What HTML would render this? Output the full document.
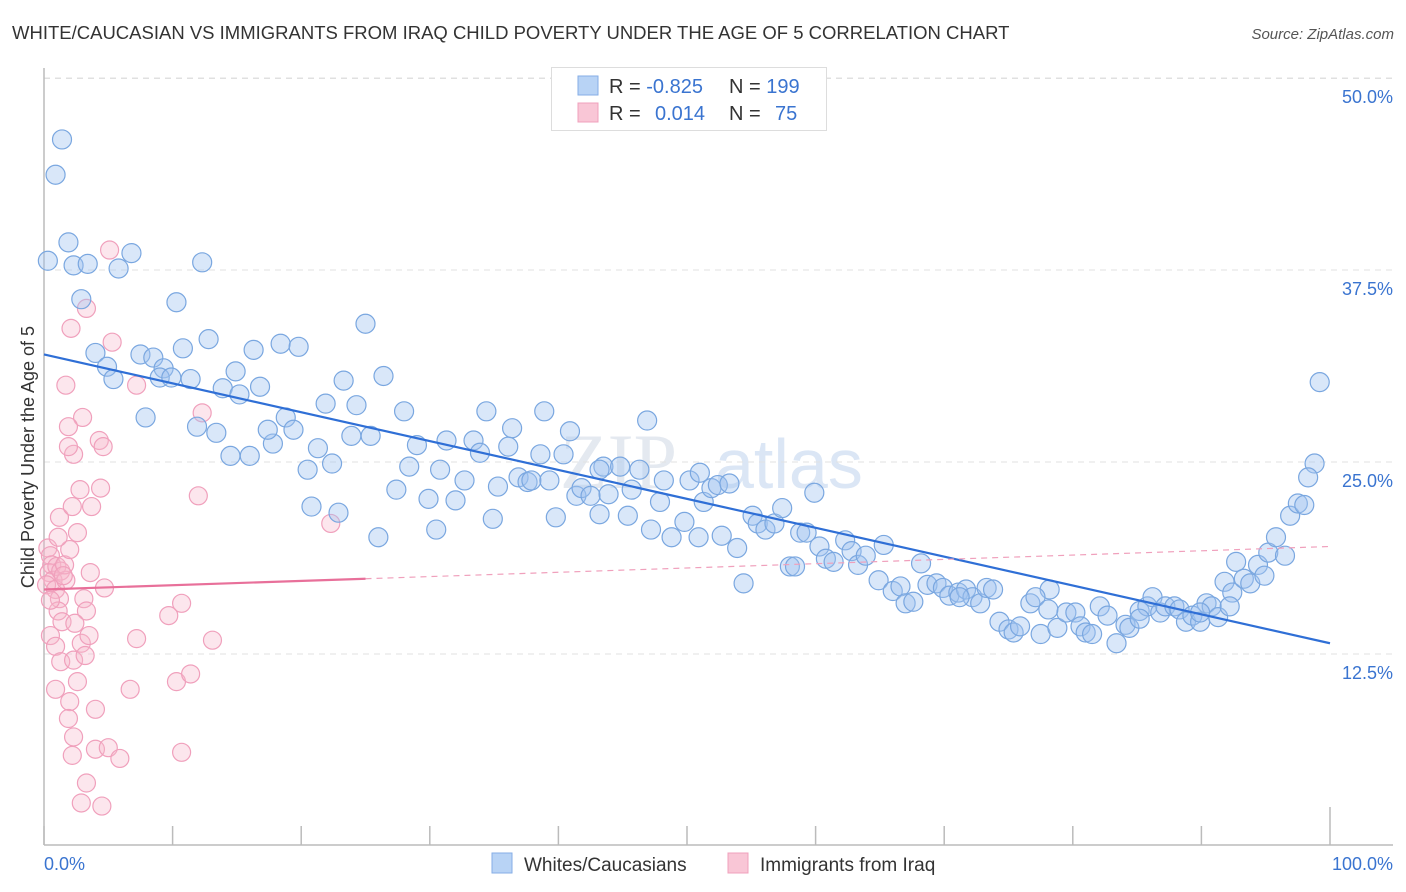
<!DOCTYPE html>
<html><head><meta charset="utf-8"><style>
body{margin:0;background:#fff;font-family:"Liberation Sans",sans-serif;}
svg{display:block}
</style></head><body>
<svg id="chart" width="1406" height="892">
<text x="12" y="39" font-size="18.5" fill="#333">WHITE/CAUCASIAN VS IMMIGRANTS FROM IRAQ CHILD POVERTY UNDER THE AGE OF 5 CORRELATION CHART</text>
<text x="1394" y="39" font-size="15" fill="#555" font-style="italic" text-anchor="end">Source: ZipAtlas.com</text>
<text x="0" y="0" transform="translate(34,457) rotate(-90)" font-size="18" fill="#333" text-anchor="middle">Child Poverty Under the Age of 5</text>
<text x="560" y="488" font-size="78" fill="#e4e9f0" font-family="Liberation Serif,serif">ZIP</text>
<text x="715" y="488" font-size="70" fill="#dbe6f5">atlas</text>
<g id="grid"></g><g id="pink"></g><g id="blue"></g><g id="lines"></g>
<g>
<rect x="551.5" y="67.5" width="275" height="63" fill="#fff" stroke="#ddd"/>
<rect x="578" y="76" width="20" height="19" fill="#b8d3f5" stroke="#86aee6"/>
<rect x="578" y="103" width="20" height="19" fill="#f9c6d6" stroke="#f0a0bc"/>
<text x="609" y="93" font-size="20" fill="#333">R = <tspan fill="#3a74d0">-0.825</tspan><tspan x="729">N = </tspan><tspan fill="#3a74d0">199</tspan></text>
<text x="609" y="120" font-size="20" fill="#333">R = <tspan x="655" fill="#3a74d0">0.014</tspan><tspan x="729">N = </tspan><tspan x="775" fill="#3a74d0">75</tspan></text>
</g>
<g>
<rect x="492" y="853" width="20" height="20" fill="#b8d3f5" stroke="#86aee6"/>
<text x="524" y="871" font-size="19" fill="#333">Whites/Caucasians</text>
<rect x="728" y="853" width="20" height="20" fill="#f9c6d6" stroke="#f0a0bc"/>
<text x="760" y="871" font-size="19" fill="#333">Immigrants from Iraq</text>
</g>
</svg>
<script>
const blueX=[1.4,0.9,1.9,0.3,2.3,3.4,5.8,6.8,12.3,2.9,10.3,25.0,4.0,7.5,8.5,10.8,12.8,16.3,18.4,19.8,4.9,5.4,9.3,9.0,9.9,11.4,14.9,16.8,13.9,15.2,23.3,26.4,7.9,11.9,13.4,14.5,16.0,17.8,17.4,18.8,19.4,21.9,24.3,28.0,21.3,22.4,20.5,20.8,22.9,23.9,25.4,26.0,27.4,28.4,29.0,29.9,30.5,30.8,31.3,32.0,32.7,33.4,34.4,33.9,34.9,35.3,36.1,36.4,36.9,37.6,37.9,38.6,38.9,39.3,39.8,40.4,40.9,41.4,41.8,42.5,43.2,43.5,43.9,44.8,45.4,45.7,46.9,46.3,47.2,47.9,48.2,48.8,49.8,50.2,50.9,51.3,51.9,52.4,52.7,53.3,53.9,54.4,55.1,55.5,56.1,56.8,57.4,58.0,58.4,58.8,59.3,59.9,60.3,60.8,61.4,62.3,62.8,63.3,63.9,64.9,65.3,66.0,66.6,67.0,67.6,68.2,68.7,69.4,69.9,70.4,71.1,71.7,72.2,72.8,73.3,73.8,74.3,75.0,75.4,75.9,76.7,77.5,78.2,78.8,79.5,80.2,80.6,81.0,81.5,82.1,82.7,83.4,84.1,84.4,85.2,85.8,86.2,86.8,87.2,87.9,88.3,88.8,89.3,89.9,90.4,90.8,91.3,91.8,92.4,92.7,93.3,93.8,94.4,94.9,95.2,95.8,96.5,96.9,97.5,98.0,98.8,98.3,99.2,92.2,77.1,85.2,89.9,71.2,78.1,43.2,51.0];
const blueY=[46.0,43.7,39.3,38.1,37.8,37.9,37.6,38.6,38.0,35.6,35.4,34.0,32.1,32.0,31.8,32.4,33.0,32.3,32.7,32.5,31.2,30.4,31.1,30.5,30.5,30.4,30.9,29.9,29.8,29.4,30.3,30.6,27.9,27.3,26.9,25.4,25.4,26.2,27.1,27.9,27.1,28.8,28.7,28.3,25.9,24.9,24.5,22.1,21.7,26.7,26.7,20.1,23.2,24.7,26.1,22.6,20.6,24.5,26.4,22.5,23.8,26.4,28.3,25.6,21.3,23.4,26.0,27.2,24.0,23.7,23.8,25.5,28.3,23.8,21.4,25.5,27.0,22.8,23.3,22.8,21.6,24.7,22.9,24.7,21.5,23.2,27.7,24.5,20.6,22.4,23.8,20.1,21.1,23.8,20.1,22.4,23.3,23.5,20.2,23.6,19.4,17.1,21.5,21.0,20.6,21.0,22.0,18.2,18.2,20.4,20.4,23.0,19.5,18.7,18.5,19.9,19.2,18.3,18.9,17.3,19.6,16.6,16.9,15.8,15.9,18.4,17.0,17.1,16.8,16.3,16.5,16.7,16.2,15.8,16.8,16.7,14.6,14.1,13.9,14.3,15.8,13.8,16.7,14.2,15.2,15.2,14.3,13.9,13.8,15.6,15.0,13.2,14.4,14.2,15.3,15.6,16.2,15.2,15.6,15.6,15.4,14.6,15.0,14.6,15.8,15.6,14.9,17.2,16.5,18.5,17.4,17.1,18.3,17.6,19.1,20.1,18.9,21.5,22.3,22.2,24.9,24.0,30.2,15.6,16.2,14.8,15.2,16.2,15.4,24.5,24.3];
const pinkX=[0.3,0.5,0.6,0.4,0.7,0.2,1.0,1.3,0.9,1.2,1.1,1.4,0.5,0.9,1.3,1.7,1.6,2.0,1.2,1.1,2.2,2.8,3.7,4.4,2.3,3.0,1.9,1.9,1.7,2.1,3.3,5.1,5.3,7.2,4.3,4.6,12.0,12.3,22.3,3.1,3.3,2.4,2.9,3.5,4.7,3.6,2.3,2.6,2.0,4.0,1.9,2.3,4.0,5.0,2.2,5.9,3.3,2.9,4.5,10.7,6.7,7.2,13.1,10.3,11.4,10.7,9.7,3.2,0.9,2.6,1.5,0.5];
const pinkY=[19.4,18.9,18.3,17.8,17.3,17.0,18.2,17.9,16.7,16.1,15.3,14.6,13.7,13.0,12.0,17.3,18.3,19.3,21.4,20.1,22.1,23.2,22.1,23.3,25.5,27.9,27.3,26.0,30.0,33.7,35.0,38.8,32.8,30.0,26.4,26.0,22.8,28.2,21.0,16.1,15.3,14.5,13.2,13.7,16.8,17.8,12.1,10.7,9.4,8.9,8.3,7.1,6.3,6.4,5.9,5.7,4.1,2.8,2.6,6.1,10.2,13.5,13.4,10.7,11.2,15.8,15.0,12.4,10.2,20.4,17.6,16.0];
const yTicks=[12.5,25.0,37.5,50.0];
const xTickVals=[0,10,20,30,40,50,60,70,80,90,100];
const blueTrend=[32.0,13.2];
const pinkTrend=[16.7,19.5];
const pinkSolidEnd=[25];

const X=v=>44+v*12.86, Y=v=>846-v*15.36;
const NS='http://www.w3.org/2000/svg';
function mk(tag,attrs,parent){const e=document.createElementNS(NS,tag);for(const k in attrs)e.setAttribute(k,attrs[k]);document.getElementById(parent).appendChild(e);return e;}

const topLine=mk('line',{x1:44,x2:1393,y1:Y(50)+0.5,y2:Y(50)+0.5,stroke:'#ddd','stroke-dasharray':'6,5'},'grid');


yTicks.forEach(t=>{
  const l=mk('line',{x1:44,x2:1393,y1:Y(t),y2:Y(t),stroke:'#e2e2e2','stroke-dasharray':'6,5'},'grid');
  
  
  const tx=mk('text',{x:1393,y:Y(t)+25,'font-size':18,fill:'#3a74d0','text-anchor':'end'},'grid');
  tx.textContent=t.toFixed(1)+'%';
  
  
});
const ax=mk('line',{x1:44,x2:1393,y1:845,y2:845,stroke:'#bbb','stroke-width':1.5},'grid');


const ay=mk('line',{x1:44,x2:44,y1:68,y2:845,stroke:'#bbb','stroke-width':1.5},'grid');


xTickVals.forEach(t=>{
  const l=mk('line',{x1:X(t),x2:X(t),y1:t===100?807:826,y2:845,stroke:'#bbb','stroke-width':1.5},'grid');
  
  
});
[['0.0%',44,'start'],['100.0%',1393,'end']].forEach(a=>{
  const tx=mk('text',{x:a[1],y:870,'font-size':18,fill:'#3a74d0','text-anchor':a[2]},'grid');
  tx.textContent=a[0];
  
  
});
pinkX.forEach((x,i)=>{
  const c=mk('circle',{cx:X(x),cy:Y(pinkY[i]),r:9,fill:'rgba(246,182,204,0.35)',stroke:'#f0a0bc','stroke-width':1.2},'pink');
  
  
});
blueX.forEach((x,i)=>{
  const c=mk('circle',{cx:X(x),cy:Y(blueY[i]),r:9.5,fill:'rgba(160,196,240,0.4)',stroke:'#7aa7e0','stroke-width':1.2},'blue');
  
  
});
const bl=mk('line',{x1:X(0),y1:Y(blueTrend[0]),x2:X(100),y2:Y(blueTrend[1]),stroke:'#2f6fd6','stroke-width':2.2},'lines');


const pAt=x=>pinkTrend[0]+(pinkTrend[1]-pinkTrend[0])*x/100;
const pd=mk('line',{x1:X(pinkSolidEnd[0]),y1:Y(pAt(pinkSolidEnd[0])),x2:X(100),y2:Y(pinkTrend[1]),stroke:'#f0a0bc','stroke-width':1.2,'stroke-dasharray':'6,5'},'lines');


const ps=mk('line',{x1:X(0),y1:Y(pinkTrend[0]),x2:X(pinkSolidEnd[0]),y2:Y(pAt(pinkSolidEnd[0])),stroke:'#e8709a','stroke-width':2.2},'lines');


</script>
</body></html>
